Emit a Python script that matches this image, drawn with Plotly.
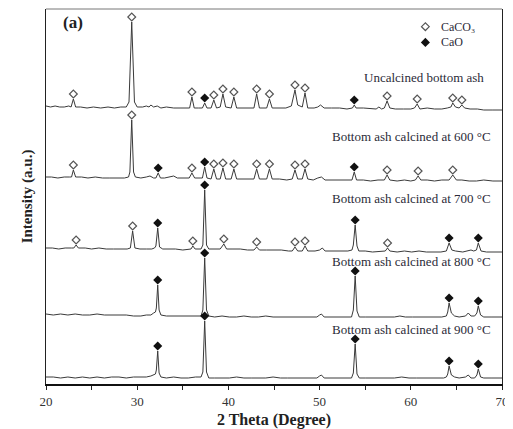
import plotly.graph_objects as go

# ---------------- data ----------------
row_names = ["Uncalcined bottom ash",
             "Bottom ash calcined at 600 °C",
             "Bottom ash calcined at 700 °C",
             "Bottom ash calcined at 800 °C",
             "Bottom ash calcined at 900 °C"]

# vertical stacking offset of each pattern (a.u.)
row_offsets = [276, 206, 135, 68, 6]

# (2theta, intensity above the pattern's own baseline)
pattern_uncalcined = [
    (20.0, 2), (20.5, 1), (21.0, 2), (21.5, 1), (22.0, 1), (22.5, 2),
    (22.75, 1), (23.0, 9), (23.25, 1), (23.8, 1), (24.5, 0), (25.2, 1),
    (26.0, 0), (26.8, 1), (27.5, 0), (28.2, 1), (28.8, 1), (29.1, 6),
    (29.4, 86), (29.7, 6), (30.0, 1), (30.6, 1), (31.0, 2), (31.3, 1),
    (31.5, 3), (31.8, 1), (32.2, 2), (32.6, 0), (33.2, 1), (34.0, 0),
    (34.8, 0), (35.5, 0), (35.75, 0), (36.0, 11), (36.25, 0), (36.7, 0),
    (37.15, 0), (37.4, 5), (37.65, 0), (38.1, 0), (38.4, 8), (38.7, 0),
    (39.1, 1), (39.4, 14), (39.7, 1), (40.3, 0), (40.6, 11), (40.9, 0),
    (41.5, 0), (42.2, 0), (42.8, 0), (43.1, 14), (43.4, 0), (44.2, 0),
    (44.5, 9), (44.8, 0), (45.5, 0), (46.3, 0), (46.9, 2), (47.3, 18),
    (47.6, 3), (48.1, 1), (48.4, 15), (48.7, 0), (49.4, 0), (49.8, 1),
    (50.1, 3), (50.5, 0), (51.3, 0), (52.2, 0), (53.0, -1), (53.6, 0),
    (53.8, 3), (54.0, 0), (54.8, 0), (55.6, -1), (56.2, -1), (56.5, 1),
    (56.8, -1), (57.1, 0), (57.4, 7), (57.7, 0), (58.3, -1), (59.2, -1),
    (60.0, -1), (60.4, 0), (60.7, 4), (61.0, -1), (61.8, 0), (62.6, -1),
    (63.4, -1), (64.0, 0), (64.4, 1), (64.6, 5), (64.9, 1), (65.3, 0),
    (65.6, 3), (65.9, 0), (66.5, -1), (67.3, -1), (68.0, -2), (69.0, -2),
    (70.0, -2)]

pattern_600 = [
    (20.0, 1), (20.6, 1), (21.3, 0), (22.0, 1), (22.6, 1), (22.8, 1),
    (23.0, 8), (23.25, 1), (23.9, 1), (24.6, 0), (25.4, 1), (26.2, 0),
    (27.0, 0), (27.8, 0), (28.6, 0), (29.05, 1), (29.2, 6), (29.4, 58),
    (29.6, 6), (29.8, 1), (30.4, 0), (31.0, 1), (31.4, 2), (31.8, 0),
    (32.05, 0), (32.3, 5), (32.55, 0), (33.0, 0), (33.6, 1), (34.0, 2),
    (34.4, 0), (35.0, 0), (35.7, 0), (36.0, 5), (36.3, 0), (36.9, 0),
    (37.15, 0), (37.4, 11), (37.65, 0), (38.1, -1), (38.4, 9), (38.7, -1),
    (39.1, -1), (39.4, 10), (39.7, -1), (40.3, -1), (40.6, 9), (40.9, -1),
    (41.5, -1), (42.2, -1), (42.8, -1), (43.1, 9), (43.4, -1), (44.2, -1),
    (44.5, 9), (44.8, -1), (45.6, -1), (46.4, -2), (47.0, -1), (47.3, 8),
    (47.6, -1), (48.1, -1), (48.4, 9), (48.7, -1), (49.3, -2), (49.8, 0),
    (50.2, 1), (50.6, -2), (51.4, -2), (52.2, -2), (53.0, -2), (53.55, -2),
    (53.8, 6), (54.05, -2), (54.8, -2), (55.6, -3), (56.4, -2), (57.1, -2),
    (57.4, 3), (57.7, -2), (58.5, -3), (59.3, -2), (60.0, -3), (60.5, -2),
    (60.8, 2), (61.1, -2), (61.8, -2), (62.6, -3), (63.4, -2), (64.2, -2),
    (64.6, 3), (65.0, -2), (65.6, -2), (66.4, -3), (67.2, -3), (68.0, -2),
    (69.0, -3), (70.0, -3)]

pattern_700 = [
    (20.0, 1), (20.7, 1), (21.4, 0), (22.1, 1), (22.8, 1), (23.05, 1),
    (23.3, 4), (23.55, 1), (24.3, 1), (25.0, 0), (25.8, 1), (26.6, 0),
    (27.4, 0), (28.2, 0), (28.9, 0), (29.25, 1), (29.5, 18), (29.75, 1),
    (30.3, 0), (31.0, 0), (31.6, 0), (31.9, 1), (32.05, 3), (32.25, 21),
    (32.45, 2), (32.8, 0), (33.5, 0), (34.2, 0), (35.0, -1), (35.7, 0),
    (35.9, 0), (36.1, 3), (36.35, 0), (37.0, 0), (37.2, 4), (37.4, 59),
    (37.6, 4), (37.85, 0), (38.4, 0), (38.8, 0), (39.1, 0), (39.5, 5),
    (39.8, 0), (40.5, 0), (41.3, 0), (42.1, -1), (42.8, -1), (43.1, 2),
    (43.4, -1), (44.2, -1), (45.0, -1), (45.8, -1), (46.6, -2), (47.0, -2),
    (47.3, 2), (47.6, -2), (48.1, -2), (48.4, 3), (48.7, -2), (49.5, -2),
    (50.0, -1), (50.3, 1), (50.6, -2), (51.5, -2), (52.3, -2), (53.1, -2),
    (53.55, -1), (53.7, 4), (53.9, 24), (54.1, 3), (54.3, -2), (55.0, -2),
    (55.8, -3), (56.6, -2), (57.2, -2), (57.45, 1), (57.7, -2), (58.5, -3),
    (59.3, -2), (60.1, -3), (60.9, -2), (61.7, -3), (62.5, -3), (63.3, -3),
    (63.9, -2), (64.2, 6), (64.5, -1), (64.9, -2), (65.7, -3), (66.3, -2),
    (66.6, -1), (66.9, -2), (67.2, -1), (67.4, 6), (67.7, -2), (68.3, -3),
    (69.1, -3), (70.0, -3)]

pattern_800 = [
    (20.0, 2), (20.8, 1), (21.6, 2), (22.4, 1), (23.2, 2), (24.0, 1),
    (24.8, 1), (25.6, 2), (26.4, 1), (27.2, 1), (28.0, 1), (28.8, 1),
    (29.6, 0), (30.4, 0), (31.0, 1), (31.5, 1), (31.8, 3), (32.0, 4),
    (32.1, 8), (32.25, 31), (32.4, 6), (32.6, 1), (33.2, 0), (34.0, 0),
    (34.8, 0), (35.6, 0), (36.4, 0), (37.0, 0), (37.2, 6), (37.4, 58),
    (37.6, 6), (37.85, 0), (38.5, -1), (39.3, 0), (40.1, -1), (40.9, -1),
    (41.7, 0), (42.5, -1), (43.3, -1), (44.1, 0), (44.9, -1), (45.7, -1),
    (46.5, -1), (47.3, -1), (48.1, -1), (48.9, -1), (49.7, -1), (50.0, 1),
    (50.2, 2), (50.5, -1), (51.3, -1), (52.1, -1), (52.9, -1), (53.5, -1),
    (53.7, 6), (53.9, 40), (54.1, 5), (54.35, -1), (55.0, -1), (55.8, -1),
    (56.6, -1), (57.4, -1), (58.2, -1), (58.8, 0), (59.4, -1), (60.2, -1),
    (61.0, -1), (61.8, -1), (62.6, -1), (63.4, -1), (63.9, 0), (64.05, 4),
    (64.2, 13), (64.45, 3), (64.8, 0), (65.3, -1), (66.0, 0), (66.3, 3),
    (66.6, 0), (67.0, 0), (67.25, 3), (67.4, 10), (67.65, 1), (68.0, -1),
    (68.8, -1), (69.5, -1), (70.0, -1)]

pattern_900 = [
    (20.0, 1), (20.8, 1), (21.6, 0), (22.4, 1), (23.2, 0), (24.0, 1),
    (24.8, 0), (25.6, 1), (26.4, 0), (27.2, 1), (28.0, 1), (28.8, 0),
    (29.6, 1), (30.4, 1), (31.0, 1), (31.5, 2), (31.8, 3), (32.0, 4),
    (32.1, 8), (32.25, 27), (32.4, 5), (32.6, 1), (33.2, 0), (34.0, 1),
    (34.8, 0), (35.6, 0), (36.4, 1), (37.0, 1), (37.2, 6), (37.4, 57),
    (37.6, 6), (37.85, 0), (38.5, 0), (39.3, 0), (40.1, 0), (40.9, 1),
    (41.7, 0), (42.5, 0), (43.3, 0), (44.1, 0), (44.9, 1), (45.7, 0),
    (46.5, 0), (47.3, 0), (48.1, 0), (48.9, 0), (49.7, 0), (50.0, 2),
    (50.2, 3), (50.5, 0), (51.3, 0), (52.1, 0), (52.9, 0), (53.5, 0),
    (53.7, 5), (53.9, 34), (54.1, 4), (54.35, 0), (55.0, 0), (55.8, 0),
    (56.6, 0), (57.4, 0), (58.2, 0), (59.0, 1), (59.8, 0), (60.6, 0),
    (61.4, 0), (62.2, 0), (63.0, 0), (63.6, 0), (63.9, 1), (64.05, 4),
    (64.2, 12), (64.45, 3), (64.8, 1), (65.3, 0), (66.0, 1), (66.3, 3),
    (66.6, 0), (67.0, 0), (67.25, 3), (67.4, 9), (67.65, 1), (68.0, 0),
    (68.8, 0), (69.5, 0), (70.0, 0)]

patterns = [pattern_uncalcined, pattern_600, pattern_700, pattern_800, pattern_900]

# peak identifications (2theta of marked peaks)
caco3_peaks = [
    [23.0, 29.4, 36.0, 38.4, 39.4, 40.6, 43.1, 44.5, 47.3, 48.4, 57.4, 60.7, 64.6, 65.6],
    [23.0, 29.4, 36.0, 38.4, 39.4, 40.6, 43.1, 44.5, 47.3, 48.4, 57.4, 60.8, 64.6],
    [23.3, 29.5, 36.1, 39.5, 43.1, 47.3, 48.4, 57.45],
    [],
    []]
cao_peaks = [
    [37.4, 53.8],
    [32.3, 37.4, 53.8],
    [32.25, 37.4, 53.9, 64.2, 67.4],
    [32.25, 37.4, 53.9, 64.2, 67.4],
    [32.25, 37.4, 53.9, 64.2, 67.4]]

legend_names = ["CaCO₃", "CaO"]

x_tick_vals = [20, 30, 40, 50, 60, 70]
x_tick_text = ["20", "30", "40", "50", "60", "70"]

# ---------------- styling / layout ----------------
SERIF = "Liberation Serif"
LINE = "#3a3a3a"
TXT = "#2b2b38"
MARK_GAP = 5
label_x = [54.6, 51.1, 51.1, 51.1, 51.1]
label_y = [307, 248, 186, 123, 55]
key_x = 0.832
key_text_x = 0.862
key_y = [0.953, 0.911]

OPEN_MK = dict(symbol="diamond-open", size=6, color="#555",
               line=dict(width=1.2, color="#555"))
FILL_MK = dict(symbol="diamond", size=7, color="#111")

fig = go.Figure()


def peak_top(pattern, pos):
    best = min(pattern, key=lambda p: abs(p[0] - pos))
    return best[1]


for pat, off in zip(patterns, row_offsets):
    fig.add_trace(go.Scatter(
        x=[p[0] for p in pat], y=[p[1] + off for p in pat],
        mode="lines", line=dict(color=LINE, width=1),
        showlegend=False, hoverinfo="skip"))

for pat, off, cc, co in zip(patterns, row_offsets, caco3_peaks, cao_peaks):
    if cc:
        fig.add_trace(go.Scatter(
            x=cc, y=[peak_top(pat, v) + off + MARK_GAP for v in cc],
            mode="markers", marker=OPEN_MK, showlegend=False, hoverinfo="skip"))
    if co:
        fig.add_trace(go.Scatter(
            x=co, y=[peak_top(pat, v) + off + MARK_GAP for v in co],
            mode="markers", marker=FILL_MK, showlegend=False, hoverinfo="skip"))

# key (legend): symbols on an invisible overlay axis in plot-fraction units
for mk, ky in zip([OPEN_MK, FILL_MK], key_y):
    fig.add_trace(go.Scatter(x=[key_x], y=[ky], xaxis="x2", yaxis="y2",
                             mode="markers", marker=mk, showlegend=False,
                             hoverinfo="skip"))
for name, ky in zip(legend_names, key_y):
    fig.add_annotation(x=key_text_x, y=ky, xref="paper", yref="paper", text=name,
                       showarrow=False, xanchor="left", yanchor="middle",
                       font=dict(family=SERIF, size=12, color=TXT))

for name, lx, ly in zip(row_names, label_x, label_y):
    fig.add_annotation(x=lx, y=ly, xref="x", yref="y", text=name, showarrow=False,
                       xanchor="left", yanchor="middle",
                       font=dict(family=SERIF, size=13, color=TXT))

fig.add_annotation(x=0.033, y=0.963, xref="paper", yref="paper", text="<b>(a)</b>",
                   showarrow=False, xanchor="left", yanchor="middle",
                   font=dict(family=SERIF, size=17, color="#222"))

fig.add_shape(type="line", xref="paper", yref="paper", x0=0, x1=1, y0=1, y1=1,
              line=dict(color="#777", width=1))

# the page body adds an 8px margin, so the figure is sized to fit the window
fig.update_layout(
    width=505, height=421,
    margin=dict(l=38, r=11, t=1, b=45),
    paper_bgcolor="white", plot_bgcolor="white",
    showlegend=False,
    xaxis=dict(range=[20, 70], tickvals=x_tick_vals, ticktext=x_tick_text,
               ticks="outside", ticklen=4, tickwidth=1, tickcolor="#222",
               minor=dict(dtick=5, tick0=20, ticks="outside", ticklen=4,
                          tickwidth=1, tickcolor="#222", showgrid=False),
               ticklabeloverflow="allow",
               showline=True, linecolor="#111", linewidth=2, mirror=False,
               showgrid=False, zeroline=False,
               tickfont=dict(family=SERIF, size=13, color="#333"),
               title=dict(text="<b>2 Theta (Degree)</b>", standoff=6,
                          font=dict(family=SERIF, size=16, color="#222"))),
    yaxis=dict(range=[0, 375], showticklabels=False, ticks="",
               showline=True, linecolor="#222", linewidth=1.2, mirror=True,
               showgrid=False, zeroline=False,
               title=dict(text="<b>Intensity (a.u.)</b>", standoff=8,
                          font=dict(family=SERIF, size=15, color="#222"))),
    xaxis2=dict(overlaying="x", range=[0, 1], visible=False),
    yaxis2=dict(overlaying="y", range=[0, 1], visible=False),
)

fig.write_html("out.html")
